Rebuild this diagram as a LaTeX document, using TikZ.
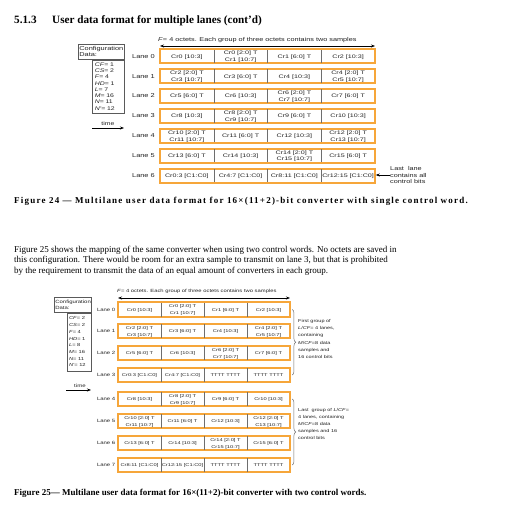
\documentclass[tikz,border=0pt]{standalone}
\usepackage{fontspec}
\setmainfont{Liberation Serif}
\setsansfont{Liberation Sans}
\newfontfamily\dsans[FakeStretch=1.3]{Liberation Sans}
\newfontfamily\csans[FakeStretch=1.4]{Liberation Sans}
\newfontfamily\capserif[LetterSpace=13.5]{Liberation Serif}
\usetikzlibrary{decorations.pathreplacing,arrows.meta}
\definecolor{laneorange}{RGB}{246,166,58}
\definecolor{divgray}{RGB}{110,110,110}
\definecolor{cfggray}{RGB}{90,90,90}
\definecolor{inkgray}{RGB}{35,35,35}
\newcommand{\setfs}[2]{\fontsize{#1}{#2}\selectfont}
\begin{document}
\begin{tikzpicture}[x=1pt,y=-1pt,
  cellA/.style={minimum width=53.75pt,inner sep=0pt,align=center,text=inkgray,yshift=-0.6pt,font=\csans\setfs{5.1}{6.6}},
  cellB/.style={minimum width=43pt,inner sep=0pt,align=center,text=inkgray,yshift=-0.5pt,font=\csans\setfs{4.1}{6.9}},
  frameA/.style={draw=laneorange,line width=1.4pt,minimum width=215pt,minimum height=13.2pt,inner sep=0pt},
  frameB/.style={draw=laneorange,line width=1.4pt,minimum width=172pt,minimum height=14pt,inner sep=0pt},
  divline/.style={draw=divgray,line width=0.6pt},
  lanelabA/.style={anchor=east,inner sep=0pt,text=inkgray,font=\dsans\setfs{5.7}{8}},
  lanelabB/.style={anchor=east,inner sep=0pt,text=inkgray,font=\dsans\setfs{4.6}{7}},
  cfgbox/.style={draw=cfggray,line width=0.6pt,anchor=north west,align=left,inner ysep=0pt,text=inkgray},
  note/.style={inner sep=0pt,align=left,text=inkgray,font=\dsans},
  arr/.style={line width=0.7pt,-{Stealth[length=4pt,width=3pt]}},
  darr/.style={line width=0.7pt,{Stealth[length=4pt,width=3pt]}-{Stealth[length=4pt,width=3pt]}},
  brc/.style={draw=divgray,line width=0.5pt,decorate,decoration={brace,amplitude=3.5pt}},
  head/.style={anchor=base west,inner sep=0pt,font=\setfs{11.2}{12}\bfseries},
  capA/.style={anchor=base west,inner sep=0pt,font=\capserif\setfs{9}{11}\bfseries},
  caphead/.style={anchor=base west,inner sep=0pt,font=\setfs{9}{11}\bfseries},
  body/.style={anchor=base west,inner sep=0pt,font=\setfs{9}{10}}
]
\useasboundingbox (0,0) rectangle (506,508);
\fill[white] (0,0) rectangle (506,508);

% heading
\node[head] (secnum) at (14,23.8) {5.1.3};
\node[head] (sectitle) at (52,23.8) {User data format for multiple lanes (cont'd)};

% ---------- Figure 24 ----------
\node[note,anchor=base west,font=\dsans\setfs{5.6}{7}] (FA) at (158,41.5) {\textit{F}= 4 octets. Each group of three octets contains two samples};
\coordinate (wA0) at (160,46);
\coordinate (wA1) at (375,46);
\draw[darr] (wA0) -- (wA1);

\node[cfgbox,text width=44pt,inner xsep=1pt,minimum height=15pt,font=\dsans\setfs{5.7}{6.3}] (cfgA) at (78,44) {Configuration\\Data:};
\node[cfgbox,text width=27pt,inner xsep=2.5pt,minimum height=53pt,font=\dsans\setfs{5.3}{6.3}] (cfgAl) at (cfgA.south east) [anchor=north east] {\textit{CF}= 1\\\textit{CS}= 2\\\textit{F}= 4\\\textit{HD}= 1\\\textit{L}= 7\\\textit{M}= 16\\\textit{N}= 11\\\textit{N'}= 12};

\node[note,font=\dsans\setfs{5.3}{7}] (timeA) at (108,124) {time};
\coordinate (tA0) at (92,128);
\coordinate (tA1) at (124,128);
\draw[arr] (tA0) -- (tA1);

\foreach \r/\ta/\tb/\tc/\td in {
 0/{Cr0 [10:3]}/{Cr0 [2:0] T\\Cr1 [10:7]}/{Cr1 [6:0] T}/{Cr2 [10:3]},
 1/{Cr2 [2:0] T\\Cr3 [10:7]}/{Cr3 [6:0] T}/{Cr4 [10:3]}/{Cr4 [2:0] T\\Cr5 [10:7]},
 2/{Cr5 [6:0] T}/{Cr6 [10:3]}/{Cr6 [2:0] T\\Cr7 [10:7]}/{Cr7 [6:0] T},
 3/{Cr8 [10:3]}/{Cr8 [2:0] T\\Cr9 [10:7]}/{Cr9 [6:0] T}/{Cr10 [10:3]},
 4/{Cr10 [2:0] T\\Cr11 [10:7]}/{Cr11 [6:0] T}/{Cr12 [10:3]}/{Cr12 [2:0] T\\Cr13 [10:7]},
 5/{Cr13 [6:0] T}/{Cr14 [10:3]}/{Cr14 [2:0] T\\Cr15 [10:7]}/{Cr15 [6:0] T},
 6/{Cr0:3 [C1:C0]}/{Cr4:7 [C1:C0]}/{Cr8:11 [C1:C0]}/{Cr12:15 [C1:C0]}}{
 \pgfmathsetmacro\yc{56.2+19.9*\r}
 \node[lanelabA] (LA\r) at (155,\yc) {Lane \r};
 \node[cellA] (A\r-1) at (186.875,\yc) {\ta};
 \node[cellA] (A\r-2) at (240.625,\yc) {\tb};
 \node[cellA] (A\r-3) at (294.375,\yc) {\tc};
 \node[cellA] (A\r-4) at (348.125,\yc) {\td};
 \node[frameA] (FA\r) at (267.5,\yc) {};
 \foreach \k in {1,2,3}{
   \draw[divline] (A\r-\k.east |- FA\r.north) -- (A\r-\k.east |- FA\r.south);
 }
 \draw[draw=laneorange,line width=1.4pt] (FA\r.north west) rectangle (FA\r.south east);
}

\node[note,anchor=west,font=\dsans\setfs{5.6}{6.6}] (lastA) at (390,175) {Last\ \ lane\\contains all\\control bits};
\draw[arr,line width=0.6pt] (lastA.west) -- (lastA.west -| FA6.east);

\node[capA] (capA) at (14,203) {Figure 24 — Multilane user data format for 16×(11+2)-bit converter with single control word.};

% ---------- paragraph ----------
\node[body] (para1) at (14,252) {Figure 25 shows the mapping of the same converter when using two control words. No octets are saved in};
\node[body] (para2) at (14,262.5) {this configuration. There would be room for an extra sample to transmit on lane 3, but that is prohibited};
\node[body] (para3) at (14,273) {by the requirement to transmit the data of an equal amount of converters in each group.};

% ---------- Figure 25 ----------
\node[note,anchor=base west,font=\dsans\setfs{4.5}{6}] (FB) at (117,292.5) {\textit{F}= 4 octets. Each group of three octets contains two samples};
\coordinate (wB0) at (118,298);
\coordinate (wB1) at (290,298);
\draw[darr] (wB0) -- (wB1);

\node[cfgbox,text width=35pt,inner xsep=1pt,minimum height=15pt,font=\dsans\setfs{4.6}{6}] (cfgB) at (54,297) {Configuration\\Data:};
\node[cfgbox,text width=20pt,inner xsep=2.2pt,minimum height=58pt,font=\dsans\setfs{4.4}{6.7}] (cfgBl) at (cfgB.south east) [anchor=north east] {\textit{CF}= 2\\\textit{CS}= 2\\\textit{F}= 4\\\textit{HD}= 1\\\textit{L}= 8\\\textit{M}= 16\\\textit{N}= 11\\\textit{N'}= 12};

\node[note,font=\dsans\setfs{4.7}{6}] (timeB) at (80,385.5) {time};
\coordinate (tB0) at (66,390);
\coordinate (tB1) at (91,390);
\draw[arr] (tB0) -- (tB1);

\foreach \r/\yc/\ta/\tb/\tc/\td in {
 0/309.5/{Cr0 [10:3]}/{Cr0 [2:0] T\\Cr1 [10:7]}/{Cr1 [6:0] T}/{Cr2 [10:3]},
 1/331/{Cr2 [2:0] T\\Cr3 [10:7]}/{Cr3 [6:0] T}/{Cr4 [10:3]}/{Cr4 [2:0] T\\Cr5 [10:7]},
 2/353/{Cr5 [6:0] T}/{Cr6 [10:3]}/{Cr6 [2:0] T\\Cr7 [10:7]}/{Cr7 [6:0] T},
 3/375/{Cr0:3 [C1:C0]}/{Cr4:7 [C1:C0]}/{TTTT TTTT}/{TTTT TTTT},
 4/399/{Cr8 [10:3]}/{Cr8 [2:0] T\\Cr9 [10:7]}/{Cr9 [6:0] T}/{Cr10 [10:3]},
 5/421/{Cr10 [2:0] T\\Cr11 [10:7]}/{Cr11 [6:0] T}/{Cr12 [10:3]}/{Cr12 [2:0] T\\C13 [10:7]},
 6/443/{Cr13 [6:0] T}/{Cr14 [10:3]}/{Cr14 [2:0] T\\Cr15 [10:7]}/{Cr15 [6:0] T},
 7/465/{Cr8:11 [C1:C0]}/{Cr12:15 [C1:C0]}/{TTTT TTTT}/{TTTT TTTT}}{
 \node[lanelabB] (LB\r) at (115.5,\yc) {Lane \r};
 \node[cellB] (B\r-1) at (139.5,\yc) {\ta};
 \node[cellB] (B\r-2) at (182.5,\yc) {\tb};
 \node[cellB] (B\r-3) at (225.5,\yc) {\tc};
 \node[cellB] (B\r-4) at (268.5,\yc) {\td};
 \node[frameB] (FB\r) at (204,\yc) {};
 \foreach \k in {1,2,3}{
   \draw[divline] (B\r-\k.east |- FB\r.north) -- (B\r-\k.east |- FB\r.south);
 }
 \draw[draw=laneorange,line width=1.4pt] (FB\r.north west) rectangle (FB\r.south east);
}

\draw[brc] ([xshift=1.5pt]FB0.east) -- ([xshift=1.5pt]FB3.east);
\draw[brc] ([xshift=1.5pt]FB4.east) -- ([xshift=1.5pt]FB7.east);
\node[note,anchor=west,font=\dsans\setfs{4.25}{7.2}] (grp1) at (298,339) {First group of\\\textit{L}/\textit{CF}= 4 lanes,\\containing\\\textit{M}/\textit{CF}=8 data\\samples and\\16 control bits};
\node[note,anchor=west,font=\dsans\setfs{4.25}{7.2}] (grp2) at (298,424) {Last\ \ group of \textit{L}/\textit{CF}=\\4 lanes, containing\\\textit{M}/\textit{CF}=8 data\\samples and 16\\control bits};

\node[caphead] (capB) at (14,495) {Figure 25— Multilane user data format for 16×(11+2)-bit converter with two control words.};
\end{tikzpicture}
\end{document}
